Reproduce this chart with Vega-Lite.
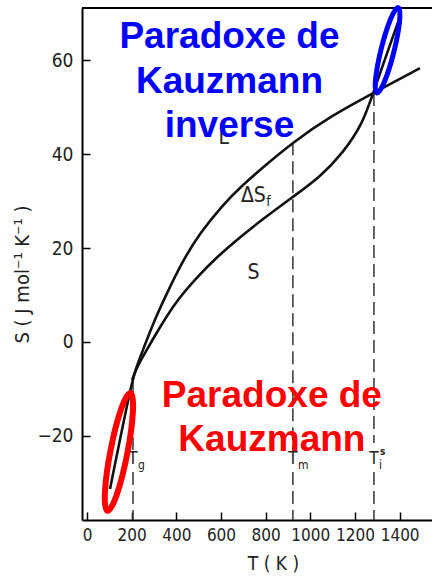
{
  "$schema": "https://vega.github.io/schema/vega-lite/v6.json",
  "width": 350,
  "height": 512,
  "autosize": {"type": "none"},
  "padding": {"left": 82, "top": 8, "right": 0, "bottom": 59},
  "background": "white",
  "config": {"view": {"stroke": null}},
  "datasets": {
    "curves": [
      {"T": 103, "S": -31.3, "c": "L", "i": 0},
      {"T": 188, "S": -11.3, "c": "L", "i": 1},
      {"T": 215, "S": -6.0, "c": "L", "i": 2},
      {"T": 251, "S": -1.7, "c": "L", "i": 3},
      {"T": 296, "S": 4.0, "c": "L", "i": 4},
      {"T": 358, "S": 10.4, "c": "L", "i": 5},
      {"T": 430, "S": 17.4, "c": "L", "i": 6},
      {"T": 506, "S": 23.2, "c": "L", "i": 7},
      {"T": 609, "S": 29.2, "c": "L", "i": 8},
      {"T": 685, "S": 32.9, "c": "L", "i": 9},
      {"T": 788, "S": 37.2, "c": "L", "i": 10},
      {"T": 922, "S": 42.5, "c": "L", "i": 11},
      {"T": 1088, "S": 48.0, "c": "L", "i": 12},
      {"T": 1281, "S": 53.0, "c": "L", "i": 13},
      {"T": 1491, "S": 58.3, "c": "L", "i": 14},
      {"T": 202, "S": -8.1, "c": "S", "i": 0},
      {"T": 224, "S": -5.3, "c": "S", "i": 1},
      {"T": 260, "S": -2.3, "c": "S", "i": 2},
      {"T": 327, "S": 3.2, "c": "S", "i": 3},
      {"T": 403, "S": 8.9, "c": "S", "i": 4},
      {"T": 493, "S": 13.8, "c": "S", "i": 5},
      {"T": 582, "S": 18.1, "c": "S", "i": 6},
      {"T": 685, "S": 22.3, "c": "S", "i": 7},
      {"T": 788, "S": 26.2, "c": "S", "i": 8},
      {"T": 922, "S": 30.9, "c": "S", "i": 9},
      {"T": 1043, "S": 35.1, "c": "S", "i": 10},
      {"T": 1146, "S": 40.2, "c": "S", "i": 11},
      {"T": 1236, "S": 46.6, "c": "S", "i": 12},
      {"T": 1281, "S": 53.0, "c": "S", "i": 13},
      {"T": 1393, "S": 68.1, "c": "S", "i": 14}
    ],
    "drops": [
      {"T": 206, "S": -8.1, "S2": -23.0},
      {"T": 206, "S": -27.7, "S2": -37.9},
      {"T": 922, "S": 42.5, "S2": -23.0},
      {"T": 922, "S": -27.7, "S2": -37.9},
      {"T": 1285, "S": 53.0, "S2": -21.5},
      {"T": 1285, "S": -27.7, "S2": -37.9}
    ],
    "frame": [{"T": -22.4, "T2": 1545, "S": 71.1}],
    "temps": [
      {"T": 206, "S": -24.9, "t": "T", "k": "main"},
      {"T": 922, "S": -24.9, "t": "T", "k": "main"},
      {"T": 1285, "S": -24.9, "t": "T", "k": "main"},
      {"T": 206, "S": -24.9, "t": "g", "k": "sub"},
      {"T": 922, "S": -24.9, "t": "m", "k": "sub"},
      {"T": 1285, "S": -24.9, "t": "i", "k": "sub"},
      {"T": 1285, "S": -24.9, "t": "s", "k": "sup"}
    ],
    "curvelabels": [
      {"T": 612, "S": 43.4, "t": "L", "k": "main"},
      {"T": 746, "S": 14.6, "t": "S", "k": "main"},
      {"T": 745, "S": 31.1, "t": "ΔS", "k": "main"},
      {"T": 745, "S": 31.1, "t": "f", "k": "sub"}
    ],
    "notes": [
      {"T": 638, "S": 62.55, "t": "Paradoxe de\nKauzmann\ninverse", "g": "blue"},
      {"T": 828, "S": -13.8, "t": "Paradoxe de\nKauzmann", "g": "red"}
    ],
    "rings": [
      {"T": 1346, "S": 62.1, "g": "blue"},
      {"T": 143, "S": -23.4, "g": "red"}
    ]
  },
  "encoding": {
    "x": {
      "field": "T", "type": "quantitative",
      "scale": {"domain": [-22.4, 1545], "nice": false, "zero": false},
      "axis": {
        "title": "T ( K )",
        "values": [0, 200, 400, 600, 800, 1000, 1200, 1400],
        "format": "d",
        "labelOverlap": false,
        "grid": false,
        "domainColor": "black", "domainWidth": 2,
        "tickColor": "black", "tickWidth": 1.5, "tickSize": -8,
        "labelPadding": 15,
        "labelFont": "DejaVu Sans Condensed, sans-serif",
        "labelFontSize": 17, "labelColor": "#222",
        "titleFont": "DejaVu Sans Condensed, sans-serif",
        "titleFontSize": 19, "titleFontWeight": "normal", "titleColor": "#222",
        "titleX": 191, "titleY": 43, "titleBaseline": "middle", "titleAlign": "center"
      }
    },
    "y": {
      "field": "S", "type": "quantitative",
      "scale": {"domain": [-37.9, 71.1], "nice": false, "zero": false},
      "axis": {
        "title": "S ( J mol⁻¹ K⁻¹ )",
        "values": [-20, 0, 20, 40, 60],
        "labelOverlap": false,
        "grid": false,
        "domainColor": "black", "domainWidth": 2,
        "tickColor": "black", "tickWidth": 1.5, "tickSize": -8,
        "labelPadding": 17,
        "labelFont": "DejaVu Sans Condensed, sans-serif",
        "labelFontSize": 19, "labelColor": "#222",
        "titleFont": "DejaVu Sans Condensed, sans-serif",
        "titleFontSize": 20, "titleFontWeight": "normal", "titleColor": "#222",
        "titleX": -60, "titleY": 266, "titleAngle": -90,
        "titleBaseline": "middle", "titleAlign": "center"
      }
    }
  },
  "layer": [
    {
      "data": {"name": "drops"},
      "mark": {"type": "rule", "color": "#333", "strokeWidth": 1.5, "strokeDash": [13, 6]},
      "encoding": {"y2": {"field": "S2"}}
    },
    {
      "data": {"name": "curves"},
      "mark": {"type": "line", "color": "#111", "strokeWidth": 2.6, "interpolate": "basis"},
      "encoding": {"detail": {"field": "c"}, "order": {"field": "i", "type": "quantitative"}}
    },
    {
      "data": {"name": "frame"},
      "mark": {"type": "rule", "color": "black", "strokeWidth": 2},
      "encoding": {"x2": {"field": "T2"}}
    },
    {
      "data": {"name": "temps"},
      "transform": [{"filter": "datum.k == 'main'"}],
      "mark": {"type": "text", "font": "DejaVu Sans Condensed, sans-serif", "fontSize": 17, "color": "#222", "align": "center", "baseline": "middle"},
      "encoding": {"text": {"field": "t"}}
    },
    {
      "data": {"name": "temps"},
      "transform": [{"filter": "datum.k == 'sub'"}],
      "mark": {"type": "text", "font": "DejaVu Sans Condensed, sans-serif", "fontSize": 12, "color": "#222", "align": "left", "baseline": "middle", "dx": 5, "dy": 6},
      "encoding": {"text": {"field": "t"}}
    },
    {
      "data": {"name": "temps"},
      "transform": [{"filter": "datum.k == 'sup'"}],
      "mark": {"type": "text", "font": "DejaVu Sans Condensed, sans-serif", "fontSize": 10, "fontWeight": "bold", "color": "#222", "align": "left", "baseline": "middle", "dx": 6, "dy": -7},
      "encoding": {"text": {"field": "t"}}
    },
    {
      "data": {"name": "curvelabels"},
      "transform": [{"filter": "datum.k == 'main'"}],
      "mark": {"type": "text", "font": "DejaVu Sans Condensed, sans-serif", "fontSize": 21, "color": "#222", "align": "center", "baseline": "middle"},
      "encoding": {"text": {"field": "t"}}
    },
    {
      "data": {"name": "curvelabels"},
      "transform": [{"filter": "datum.k == 'sub'"}],
      "mark": {"type": "text", "font": "DejaVu Sans Condensed, sans-serif", "fontSize": 14, "color": "#222", "align": "left", "baseline": "middle", "dx": 13, "dy": 6},
      "encoding": {"text": {"field": "t"}}
    },
    {
      "data": {"name": "notes"},
      "transform": [{"filter": "datum.g == 'blue'"}],
      "mark": {"type": "text", "font": "Liberation Sans, Arial, sans-serif", "fontSize": 37, "fontWeight": "bold", "color": "#0000FF", "align": "center", "baseline": "alphabetic", "lineBreak": "\n", "lineHeight": 44.5},
      "encoding": {"text": {"field": "t"}}
    },
    {
      "data": {"name": "notes"},
      "transform": [{"filter": "datum.g == 'red'"}],
      "mark": {"type": "text", "font": "Liberation Sans, Arial, sans-serif", "fontSize": 37, "fontWeight": "bold", "color": "#FF0000", "align": "center", "baseline": "alphabetic", "lineBreak": "\n", "lineHeight": 44},
      "encoding": {"text": {"field": "t"}}
    },
    {
      "data": {"name": "rings"},
      "transform": [{"filter": "datum.g == 'blue'"}],
      "mark": {"type": "point", "filled": false, "fill": null, "stroke": "#0000FF", "strokeWidth": 5, "opacity": 1, "strokeOpacity": 1, "size": 7744, "angle": 14,
        "shape": "M0,-1C0.082,-1,0.148,-0.552,0.148,0C0.148,0.552,0.082,1,0,1C-0.082,1,-0.148,0.552,-0.148,0C-0.148,-0.552,-0.082,-1,0,-1Z"}
    },
    {
      "data": {"name": "rings"},
      "transform": [{"filter": "datum.g == 'red'"}],
      "mark": {"type": "point", "filled": false, "fill": null, "stroke": "#FF0000", "strokeWidth": 6, "opacity": 1, "strokeOpacity": 1, "size": 14400, "angle": 11,
        "shape": "M0,-1C0.078,-1,0.142,-0.552,0.142,0C0.142,0.552,0.078,1,0,1C-0.078,1,-0.142,0.552,-0.142,0C-0.142,-0.552,-0.078,-1,0,-1Z"}
    }
  ]
}
